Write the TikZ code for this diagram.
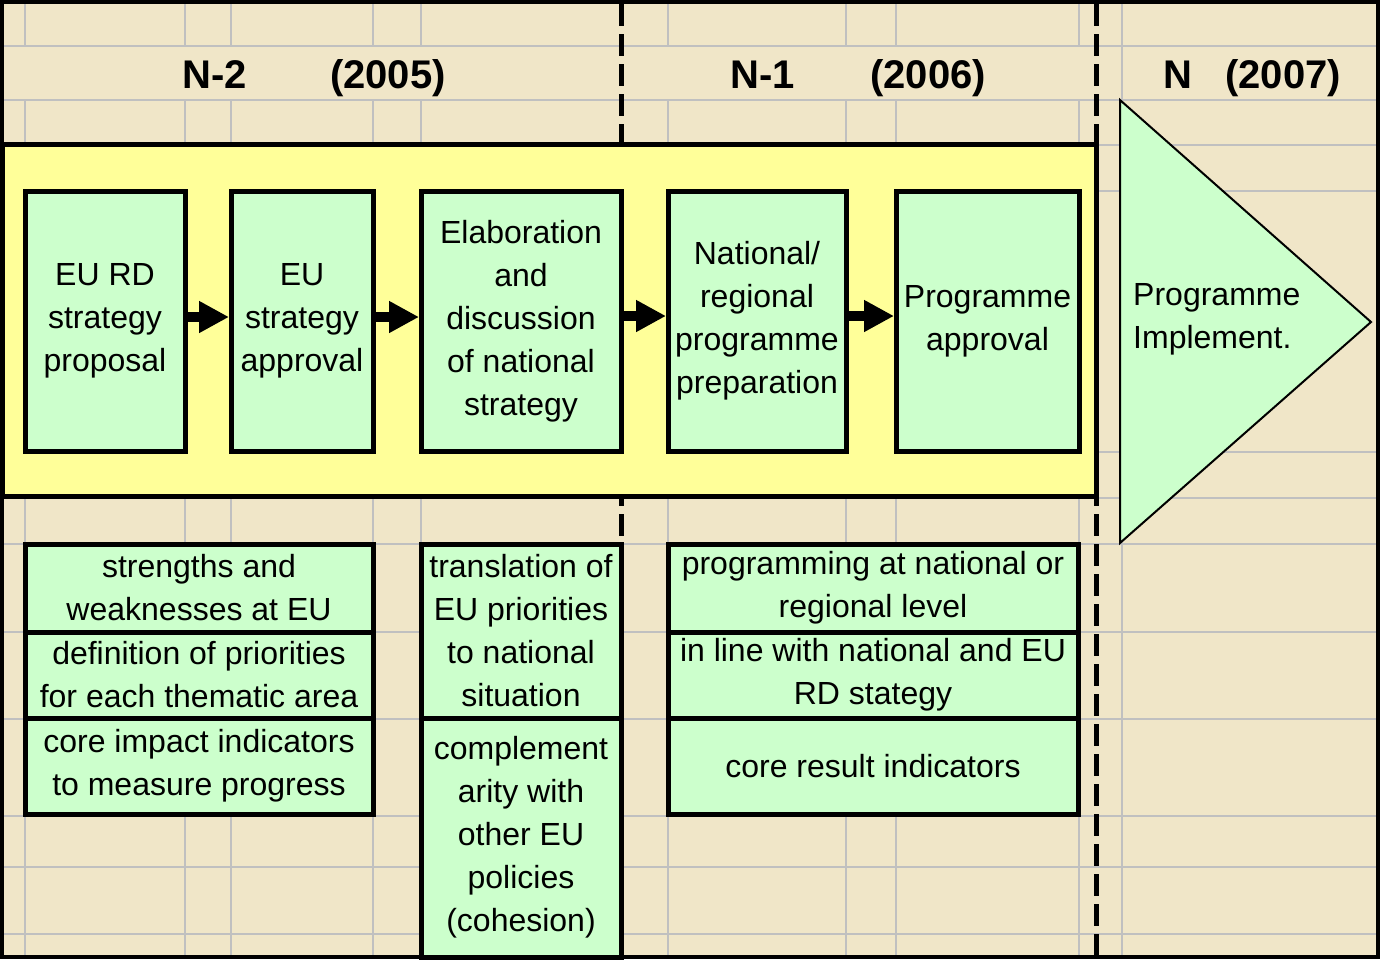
\documentclass[tikz,border=0pt]{standalone}
\usepackage{fontspec}
\setmainfont{Liberation Sans}
\usepackage{tikz}
\usetikzlibrary{positioning, arrows.meta}
\definecolor{sheet}{RGB}{240,230,200}
\definecolor{gridgray}{RGB}{192,192,192}
\definecolor{bandyellow}{RGB}{255,255,153}
\definecolor{boxgreen}{RGB}{204,255,204}
\newcommand{\cellfont}{\fontsize{32}{43}\selectfont}
\newcommand{\yearfont}{\fontsize{40}{48}\selectfont\bfseries}
\tikzset{
grid line/.style={draw=gridgray, line width=2.5pt}, % the spreadsheet cells behind everything
year line/.style={draw=black, line width=5pt, dash pattern=on 22pt off 8pt}, % border between two years
year/.style={font=\yearfont, anchor=base}, % heading of a year column
band/.style={draw=black, fill=bandyellow, line width=5pt}, % the yellow strip that holds the stages
stage/.style={draw, line width=5pt, fill=boxgreen, inner sep=0pt, outer sep=0pt, align=center, font=\cellfont, minimum height=260pt}, % one step of the procedure
cell/.style={draw, line width=5pt, fill=boxgreen, inner sep=0pt, outer sep=0pt, align=center, font=\cellfont}, % content boxes below the strip
flow/.style={line width=10pt, -{Triangle[length=30pt,width=30pt]}, shorten >=2pt}, % bold arrow between stages
}

\begin{document}
\begin{tikzpicture}[x=1pt, y=-1pt]
\useasboundingbox (0,0) rectangle (1380,959);
\fill[sheet] (0,0) rectangle (1380,959);
\foreach \y in {46,100,145,191,452,498,544,632,719,816,867,934}
  \draw[grid line] (2,\y) -- (1378,\y);
\foreach \x in {25,185,231,373,421,668,846,896,1079}
  \draw[grid line] (\x,2) -- (\x,46) (\x,100) -- (\x,957);
\draw[grid line] (1122,2) -- (1122,957);
\draw[year line] (621,4) -- (621,957);
\draw[year line] (1096,4) -- (1096,957);

\node[year] (n2) at (215,88) {N-2};
\node[year] (y2005) at (388,88) {(2005)};
\node[year] (n1) at (763,88) {N-1};
\node[year] (y2006) at (928,88) {(2006)};
\node[year] (n0) at (1178,88) {N};
\node[year] (y2007) at (1283,88) {(2007)};

\draw[band] (2,144) rectangle (1096,496);

\node[stage, minimum width=160pt, anchor=north west] (rdprop) at (25,191) {EU RD\\strategy\\proposal};
\node[stage, minimum width=142pt, right=46pt of rdprop] (euappr) {EU\\strategy\\approval};
\node[stage, minimum width=200pt, right=48pt of euappr] (natstrat) {Elaboration\\and\\discussion\\of national\\strategy};
\node[stage, minimum width=178pt, right=47pt of natstrat] (progprep) {National/\\regional\\programme\\preparation};
\node[stage, minimum width=183pt, right=50pt of progprep] (progappr) {Programme\\approval};

\draw[flow] ([yshift=4pt]rdprop.east) -- ([yshift=4pt]euappr.west);
\draw[flow] ([yshift=4pt]euappr.east) -- ([yshift=4pt]natstrat.west);
\draw[flow] ([yshift=5pt]natstrat.east) -- ([yshift=5pt]progprep.west);
\draw[flow] ([yshift=5pt]progprep.east) -- ([yshift=5pt]progappr.west);

\draw[fill=boxgreen, line width=2pt] (1120,100) -- (1371,322) -- (1120,543) -- cycle;
\node[anchor=west, inner sep=0pt, font=\cellfont, align=left] (implement) at (1133,319) {Programme\\Implement.};

\node[cell, minimum width=348pt, minimum height=88pt, anchor=north west] (strweak) at (25,544) {strengths and\\weaknesses at EU};
\node[cell, minimum width=348pt, minimum height=86pt, below=0pt of strweak] (priodef) {definition of priorities\\for each thematic area};
\node[cell, minimum width=348pt, minimum height=96pt, below=0pt of priodef] (impact) {core impact indicators\\to measure progress};

\node[cell, minimum width=200pt, minimum height=174pt, anchor=north west] (transl) at (421,544) {translation of\\EU priorities\\to national\\situation};
\node[cell, minimum width=200pt, minimum height=239pt, below=0pt of transl] (compl) {complement\\arity with\\other EU\\policies\\(cohesion)};

\node[cell, minimum width=410pt, minimum height=88pt, anchor=north west] (proglevel) at (668,544) {programming at national or\\regional level};
\node[cell, minimum width=410pt, minimum height=86pt, below=0pt of proglevel] (inline) {in line with national and EU\\RD stategy};
\node[cell, minimum width=410pt, minimum height=96pt, below=0pt of inline] (result) {core result indicators};

\draw[line width=4pt] (2,2) rectangle (1378,957);
\end{tikzpicture}
\end{document}
